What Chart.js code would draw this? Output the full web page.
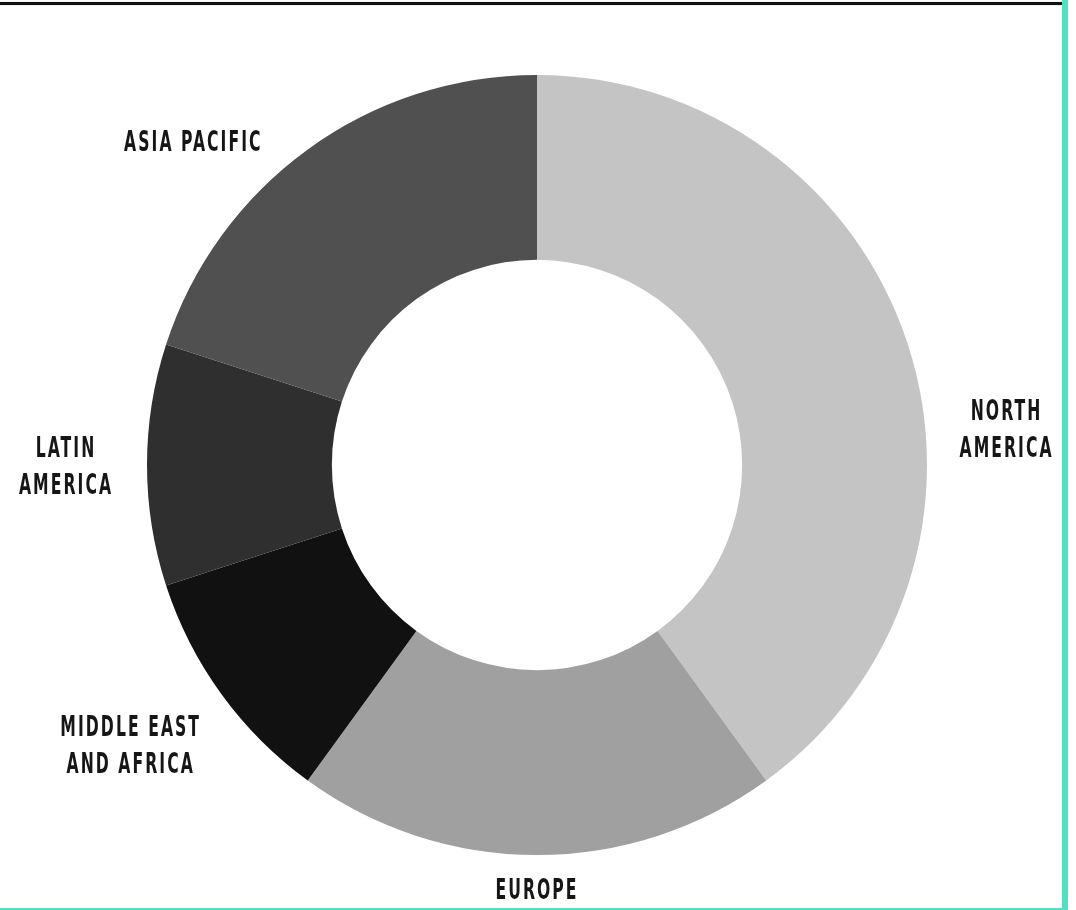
<!DOCTYPE html>
<html>
<head>
<meta charset="utf-8">
<script src="https://cdn.jsdelivr.net/npm/chart.js@4/dist/chart.umd.min.js"></script>
<style>
  html, body { margin: 0; padding: 0; background: #ffffff; }
  #wrap { position: relative; width: 1076px; height: 910px; overflow: hidden; background: #fff; }
  #chart { position: absolute; left: 0; top: 0; }
  .topline { position: absolute; left: 0; top: 2px; width: 1062px; height: 3px; background: #111; box-shadow: 0 0 1px #777; }
  .rightline { position: absolute; left: 1062px; top: 0; width: 6px; height: 910px; background: #55dfc1; }
  .bottomline { position: absolute; left: 0; top: 908px; width: 1068px; height: 2px; background: #55dfc1; }
</style>
</head>
<body>
<div id="wrap">
  <canvas id="chart" width="1076" height="910"></canvas>
  <div class="topline"></div>
  <div class="rightline"></div>
  <div class="bottomline"></div>
</div>
<script>
// ---- data ----
const categories = ['NORTH AMERICA', 'EUROPE', 'MIDDLE EAST AND AFRICA', 'LATIN AMERICA', 'ASIA PACIFIC'];
const labelLines = [['NORTH', 'AMERICA'], ['EUROPE'], ['MIDDLE EAST', 'AND AFRICA'], ['LATIN', 'AMERICA'], ['ASIA PACIFIC']];
const shares = [40, 20, 10, 10, 20];
const sliceColors = ['#c4c4c4', '#a0a0a0', '#111111', '#2f2f2f', '#505050'];

// label placement (styling, not data)
const labelAngleNudge = [13.5, 0, 1.5, 0, -10.6];  // degrees
const labelGap = [81, 33, 103, 81, 83];            // px beyond outer radius

const outerLabels = {
  id: 'outerLabels',
  afterDatasetsDraw(chart) {
    const meta = chart.getDatasetMeta(0);
    const ctx = chart.ctx;
    const fontSize = 29;
    const lineH = 37;
    const sx = 0.6;
    const baselineShift = 3;
    ctx.save();
    ctx.fillStyle = '#161616';
    ctx.font = 'bold ' + fontSize + 'px "DejaVu Sans Condensed", "DejaVu Sans", sans-serif';
    ctx.textAlign = 'center';
    ctx.textBaseline = 'middle';
    try { ctx.letterSpacing = '3.4px'; } catch (e) {}
    meta.data.forEach((arc, i) => {
      const p = arc.getProps(['x', 'y', 'startAngle', 'endAngle', 'outerRadius'], true);
      const mid = (p.startAngle + p.endAngle) / 2 + labelAngleNudge[i] * Math.PI / 180;
      const r = p.outerRadius + labelGap[i];
      const cx = p.x + Math.cos(mid) * r;
      const cy = p.y + Math.sin(mid) * r + baselineShift;
      const lines = labelLines[i];
      const top = cy - (lines.length - 1) * lineH / 2;
      lines.forEach((t, k) => {
        ctx.save();
        ctx.translate(cx, top + k * lineH);
        ctx.scale(sx, 1);
        ctx.fillText(t, 0, 0);
        ctx.restore();
      });
    });
    ctx.restore();
  }
};

new Chart(document.getElementById('chart'), {
  type: 'doughnut',
  data: {
    labels: categories,
    datasets: [{
      data: shares,
      backgroundColor: sliceColors,
      borderWidth: 0,
      hoverOffset: 0
    }]
  },
  options: {
    responsive: false,
    animation: false,
    cutout: '52.6%',
    layout: { padding: { top: 75, bottom: 55, left: 147, right: 149 } },
    plugins: {
      legend: { display: false },
      tooltip: { enabled: false }
    }
  },
  plugins: [outerLabels]
});
</script>
</body>
</html>
